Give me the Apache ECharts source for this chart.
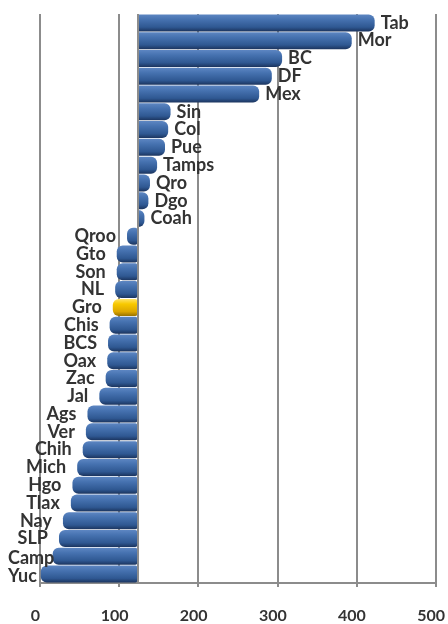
<!DOCTYPE html>
<html>
<head>
<meta charset="utf-8">
<script src="https://cdn.jsdelivr.net/npm/echarts@6/dist/echarts.min.js"></script>
<style>
html,body{margin:0;padding:0;background:#fff;}
#chart{width:448px;height:624px;}
</style>
</head>
<body>
<div id="chart"></div>
<script>
const categories = ['Tab','Mor','BC','DF','Mex','Sin','Col','Pue','Tamps','Qro','Dgo','Coah','Qroo','Gto','Son','NL','Gro','Chis','BCS','Oax','Zac','Jal','Ags','Ver','Chih','Mich','Hgo','Tlax','Nay','SLP','Camp','Yuc'];
const values = [423,394,306,293,277,165,162,158,148,139,137,132,110,97,97,95,92,88,86,85,83,75,60,58,54,47,41,39,29,24,16,1];
const baseline = 123;
const highlighted = ['Gro'];
const xTicks = [0,100,200,300,400,500];

const blueGrad = {type:'linear',x:0,y:0,x2:0,y2:1,colorStops:[
  {offset:0,color:'#5d86c2'},{offset:0.3,color:'#4672b0'},{offset:0.75,color:'#2f5892'},{offset:1,color:'#1b345e'}]};
const goldGrad = {type:'linear',x:0,y:0,x2:0,y2:1,colorStops:[
  {offset:0,color:'#ffe46a'},{offset:0.3,color:'#f8c900'},{offset:0.75,color:'#dca600'},{offset:1,color:'#9a7300'}]};

const baseData = values.map(v => Math.min(v, baseline));
const diffData = values.map((v, i) => {
  const pos = v >= baseline;
  return {
    value: Math.abs(v - baseline),
    itemStyle: {
      color: highlighted.includes(categories[i]) ? goldGrad : blueGrad,
      borderRadius: pos ? [0,6,6,0] : [6,2,2,6]
    },
    label: {
      position: pos ? 'right' : 'left',
      distance: pos ? 6 : 11
    }
  };
});

const chart = echarts.init(document.getElementById('chart'));
chart.setOption({
  animation: false,
  backgroundColor: '#fff',
  grid: {left: 40, right: 11, top: 14, bottom: 33},
  xAxis: {
    type: 'value', min: xTicks[0], max: xTicks[xTicks.length-1], interval: 100,
    axisLine: {show: true, lineStyle: {color: '#8c8c8c', width: 2}},
    axisTick: {show: true, length: 4, lineStyle: {color: '#8c8c8c', width: 2}},
    splitLine: {show: true, lineStyle: {color: '#8c8c8c', width: 2}},
    axisLabel: {fontFamily: 'Lato', fontWeight: 'bold', fontSize: 16, color: '#333',
      margin: 25, padding: [0, 9, 0, 0]}
  },
  yAxis: {
    type: 'category', data: categories, inverse: true,
    axisLine: {show: false}, axisTick: {show: false}, axisLabel: {show: false},
    splitLine: {show: false}
  },
  series: [
    {
      type: 'bar', stack: 's', data: baseData, barWidth: 17, silent: true,
      itemStyle: {color: 'transparent'}, label: {show: false}
    },
    {
      type: 'bar', stack: 's', data: diffData, barWidth: 17,
      label: {
        show: true, formatter: p => p.name, offset: [0, 2],
        fontFamily: 'Lato', fontWeight: 'bold', fontSize: 18, color: '#333'
      },
      labelLayout: function (p) {
        const r = p.labelRect;
        if (r.x < 8) {
          return {x: 8 + r.width, y: r.y + r.height / 2, align: 'right', verticalAlign: 'middle'};
        }
        return {};
      },
      markLine: {
        silent: true, symbol: 'none', label: {show: false},
        lineStyle: {color: '#8c8c8c', width: 2, type: 'solid'},
        data: [{xAxis: baseline}]
      }
    }
  ]
});
</script>
</body>
</html>
